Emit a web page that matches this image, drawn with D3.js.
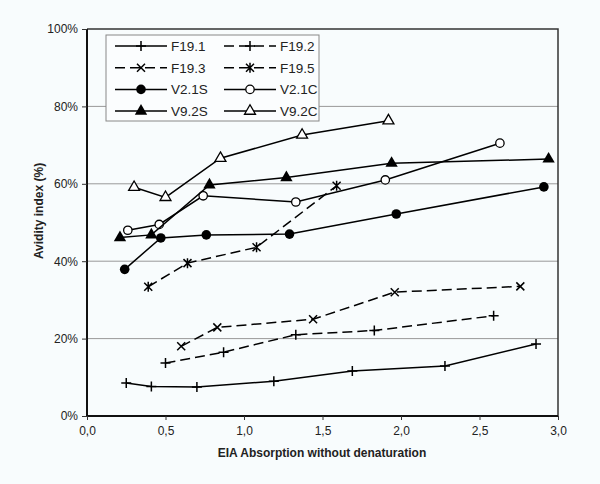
<!DOCTYPE html>
<html>
<head>
<meta charset="utf-8">
<script src="https://cdn.jsdelivr.net/npm/d3@7"></script>
<style>
  body { margin: 0; background: #f8fcfd; }
  text { font-family: "Liberation Sans", Arial, sans-serif; fill: #222; }
</style>
</head>
<body>
<div id="main"></div>
<script>
// series values (x = EIA absorption, y = avidity %)
const f191 = [[0.25, 8.5], [0.41, 7.6], [0.70, 7.5], [1.19, 9.0], [1.69, 11.6], [2.28, 12.9], [2.86, 18.6]];
const f192 = [[0.50, 13.7], [0.87, 16.5], [1.33, 21.0], [1.83, 22.1], [2.59, 25.9]];
const f193 = [[0.60, 18.0], [0.83, 22.9], [1.44, 25.0], [1.96, 32.0], [2.76, 33.5]];
const f195 = [[0.39, 33.4], [0.64, 39.5], [1.08, 43.6], [1.59, 59.5]];
const v21s = [[0.24, 37.9], [0.47, 46.0], [0.76, 46.8], [1.29, 47.0], [1.97, 52.2], [2.91, 59.2]];
const v21c = [[0.26, 48.0], [0.46, 49.5], [0.74, 56.9], [1.33, 55.3], [1.90, 61.0], [2.63, 70.5]];
const v92s = [[0.21, 46.1], [0.41, 46.8], [0.78, 59.7], [1.27, 61.6], [1.94, 65.3], [2.94, 66.4]];
const v92c = [[0.30, 59.1], [0.50, 56.5], [0.85, 66.6], [1.37, 72.6], [1.92, 76.3]];

const seriesNames = ['F19.1', 'F19.2', 'F19.3', 'F19.5', 'V2.1S', 'V2.1C', 'V9.2S', 'V9.2C'];
const seriesData = [f191, f192, f193, f195, v21s, v21c, v92s, v92c];
const seriesDash = [false, true, true, true, false, false, false, false];
const seriesMark = ['plus', 'plus', 'cross', 'star', 'dot', 'ring', 'tri', 'opentri'];

const xTicks = [0, 0.5, 1, 1.5, 2, 2.5, 3];
const yTicks = [0, 20, 40, 60, 80, 100];

const w = 600, h = 484;
const padL = 87, padR = 558, padT = 29, padB = 416;

const x = d3.scaleLinear().domain([0, 3]).range([padL, padR]);
const y = d3.scaleLinear().domain([0, 100]).range([padB, padT]);

const svg = d3.select('#main').append('svg').attr('width', w).attr('height', h);

// gridlines
svg.append('g').selectAll('line')
    .data(yTicks.filter(t => t > 0 && t < 100))
    .enter().append('line')
    .attr('x1', padL).attr('x2', padR)
    .attr('y1', d => y(d)).attr('y2', d => y(d))
    .attr('stroke', '#999').attr('stroke-width', 1);

// frame (top + right)
svg.append('path')
    .attr('d', `M${padL},${padT}H${padR}V${padB}`)
    .attr('fill', 'none').attr('stroke', '#333').attr('stroke-width', 1.5);

const xAxis = d3.axisBottom(x).tickValues(xTicks).tickSize(4).tickPadding(6)
    .tickFormat(d => d3.format('.1f')(d).replace('.', ','));
const yAxis = d3.axisLeft(y).tickValues(yTicks).tickSize(5).tickPadding(4)
    .tickFormat(d => d + '%');

const gx = svg.append('g').attr('transform', `translate(0,${padB})`).call(xAxis);
const gy = svg.append('g').attr('transform', `translate(${padL},0)`).call(yAxis);
[gx, gy].forEach(g => {
    g.select('.domain').attr('stroke', '#111').attr('stroke-width', 2);
    g.selectAll('.tick line').attr('stroke', '#333');
    g.selectAll('.tick text').style('font-size', '12px').attr('fill', '#222');
});
gy.select('.domain').attr('d', `M0,${padT}V${padB}`);
gx.select('.domain').attr('d', `M${padL},0H${padR}`);

svg.append('text')
    .attr('x', 322).attr('y', 457)
    .attr('text-anchor', 'middle')
    .style('font-size', '12px').style('font-weight', 'bold')
    .text('EIA Absorption without denaturation');

svg.append('text')
    .attr('transform', 'translate(43,211) rotate(-90)')
    .attr('text-anchor', 'middle')
    .style('font-size', '12px').style('font-weight', 'bold')
    .text('Avidity index (%)');

// marker drawing
function drawMark(g, kind, cx, cy) {
    const s = g.append('g').attr('transform', `translate(${cx},${cy})`);
    if (kind === 'plus') {
        s.append('path').attr('d', 'M-5,0H5M0,-5V5').attr('stroke', '#000').attr('stroke-width', 1.5);
    } else if (kind === 'cross') {
        s.append('path').attr('d', 'M-4,-4L4,4M-4,4L4,-4').attr('stroke', '#000').attr('stroke-width', 1.5);
    } else if (kind === 'star') {
        s.append('path').attr('d', 'M-4,-4L4,4M-4,4L4,-4M0,-5V5').attr('stroke', '#000').attr('stroke-width', 1.5);
    } else if (kind === 'dot') {
        s.append('circle').attr('r', 4.8).attr('fill', '#000');
    } else if (kind === 'ring') {
        s.append('circle').attr('r', 4.2).attr('fill', '#fff').attr('stroke', '#000').attr('stroke-width', 1.3);
    } else if (kind === 'tri') {
        s.append('path').attr('d', d3.symbol(d3.symbolTriangle, 66)()).attr('fill', '#000');
    } else if (kind === 'opentri') {
        s.append('path').attr('d', d3.symbol(d3.symbolTriangle, 52)())
            .attr('fill', '#fff').attr('stroke', '#000').attr('stroke-width', 1.3);
    }
}

const line = d3.line().x(d => x(d[0])).y(d => y(d[1]));

seriesData.forEach((data, i) => {
    const g = svg.append('g');
    g.append('path').datum(data)
        .attr('d', line)
        .attr('fill', 'none').attr('stroke', '#000').attr('stroke-width', 1.5)
        .attr('stroke-dasharray', seriesDash[i] ? '10,5' : null);
    data.forEach(d => drawMark(g, seriesMark[i], x(d[0]), y(d[1])));
});

// legend
const lg = svg.append('g');
lg.append('rect')
    .attr('x', 106).attr('y', 35).attr('width', 213).attr('height', 86)
    .attr('fill', '#fbfdfe').attr('stroke', '#888').attr('stroke-width', 1);

seriesNames.forEach((name, i) => {
    const col = i % 2, row = Math.floor(i / 2);
    const lx = col === 0 ? 115 : 224;
    const ly = 46 + row * 21.7;
    lg.append('line')
        .attr('x1', lx).attr('x2', lx + 52)
        .attr('y1', ly).attr('y2', ly)
        .attr('stroke', '#000').attr('stroke-width', 1.5)
        .attr('stroke-dasharray', seriesDash[i] ? '10,5' : null);
    drawMark(lg, seriesMark[i], lx + 26, ly);
    lg.append('text')
        .attr('x', lx + 56).attr('y', ly + 5)
        .style('font-size', '13.5px')
        .text(name);
});
</script>
</body>
</html>
